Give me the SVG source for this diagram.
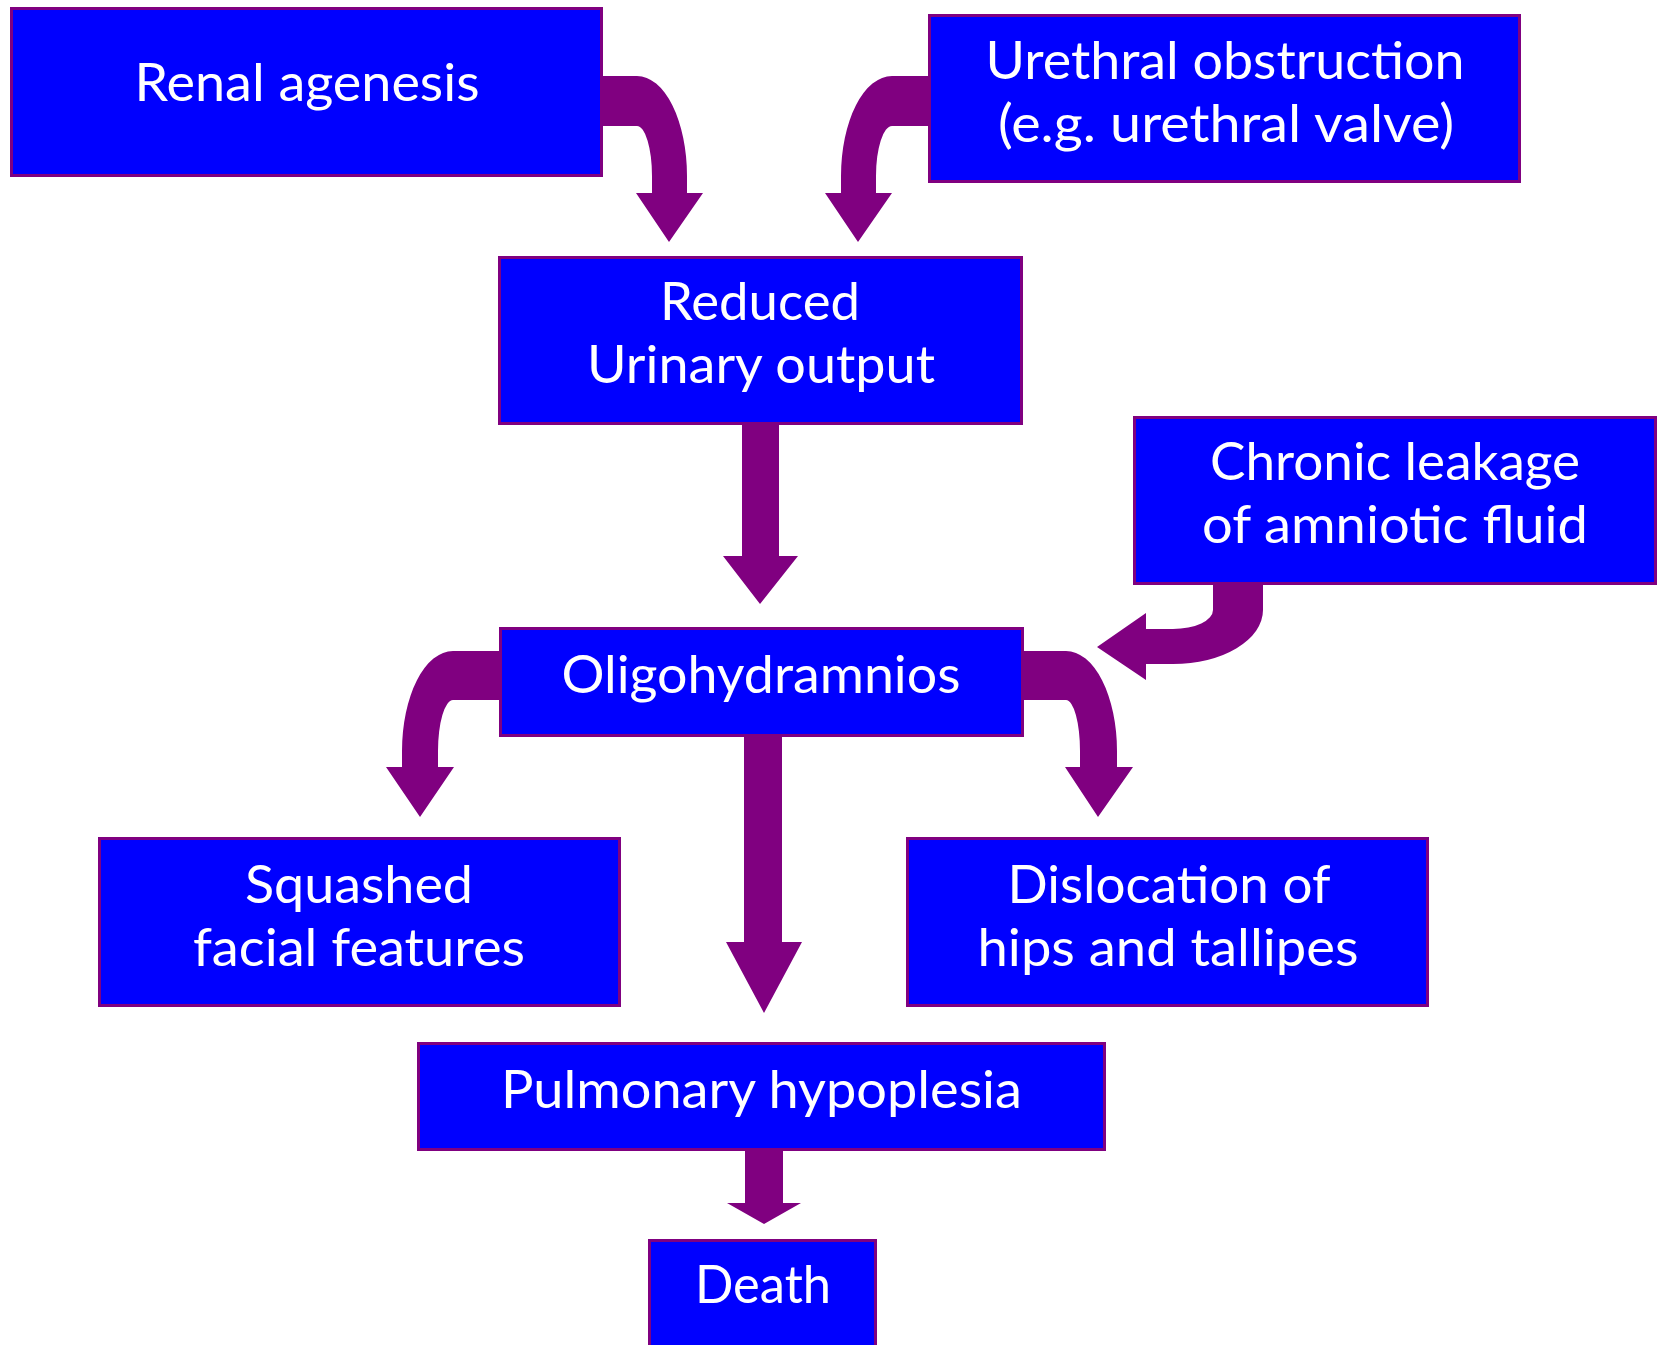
<svg xmlns="http://www.w3.org/2000/svg" width="1665" height="1345" viewBox="0 0 1665 1345">
<style>
.box{fill:#0000FF;stroke:#800080;stroke-width:3}
.t{fill:#FFFFFF;font-family:Lato,"Noto Sans","Liberation Sans",sans-serif;font-size:52px;text-anchor:middle}
.arr{fill:#800080}
</style>
<rect width="1665" height="1345" fill="#FFFFFF"/>
<g id="connectors">
<path class="arr" d="M 602 76 H 637 A 50 100 0 0 1 687 176 V 193 H 703 L 669 242 L 636 193 H 652 V 176 A 15 50 0 0 0 637 126 H 602 Z"/>
<path class="arr" d="M 930 76 H 892 A 51 100 0 0 0 841 176 V 193 H 825 L 858 242 L 892 193 H 876 V 176 A 16 50 0 0 1 892 126 H 930 Z"/>
<path class="arr" d="M 742 424 H 779 V 556 H 798 L 760 604 L 723 556 H 742 Z"/>
<path class="arr" d="M 1213 584 H 1263 V 610 A 90 54 0 0 1 1173 664 H 1146 V 680 L 1097 647 L 1146 613 V 629 H 1173 A 40 19 0 0 0 1213 610 Z"/>
<path class="arr" d="M 501 651 H 453 A 51 100 0 0 0 402 751 V 767 H 386 L 420 817 L 454 767 H 438 V 751 A 15 51 0 0 1 453 700 H 501 Z"/>
<path class="arr" d="M 1022 651 H 1066 A 51 100 0 0 1 1117 751 V 767 H 1133 L 1098 817 L 1065 767 H 1080 V 751 A 14 51 0 0 0 1066 700 H 1022 Z"/>
<path class="arr" d="M 744 736 H 782 V 942 H 802 L 764 1013 L 726 942 H 744 Z"/>
<path class="arr" d="M 745 1150 H 783 V 1203 H 801 L 764 1224 L 727 1203 H 745 Z"/>
</g>
<g id="renal">
<rect class="box" x="11.5" y="8.5" width="590" height="167"/>
<text class="t" x="307" y="101" textLength="345" lengthAdjust="spacingAndGlyphs">Renal agenesis</text>
</g>
<g id="urethral">
<rect class="box" x="929.5" y="15.5" width="590" height="166"/>
<text class="t" x="1225" y="79" textLength="479" lengthAdjust="spacingAndGlyphs">Urethral obstruction</text>
<text class="t" x="1226" y="142" textLength="456" lengthAdjust="spacingAndGlyphs">(e.g. urethral valve)</text>
</g>
<g id="reduced">
<rect class="box" x="499.5" y="257.5" width="522" height="166"/>
<text class="t" x="760" y="320" textLength="200" lengthAdjust="spacingAndGlyphs">Reduced</text>
<text class="t" x="761" y="383" textLength="348" lengthAdjust="spacingAndGlyphs">Urinary output</text>
</g>
<g id="chronic">
<rect class="box" x="1134.5" y="417.5" width="521" height="166"/>
<text class="t" x="1395" y="480" textLength="370" lengthAdjust="spacingAndGlyphs">Chronic leakage</text>
<text class="t" x="1395" y="543" textLength="386" lengthAdjust="spacingAndGlyphs">of amniotic fluid</text>
</g>
<g id="oligo">
<rect class="box" x="500.5" y="628.5" width="522" height="107"/>
<text class="t" x="761" y="693" textLength="399" lengthAdjust="spacingAndGlyphs">Oligohydramnios</text>
</g>
<g id="squashed">
<rect class="box" x="99.5" y="838.5" width="520" height="167"/>
<text class="t" x="359" y="903" textLength="228" lengthAdjust="spacingAndGlyphs">Squashed</text>
<text class="t" x="359" y="966" textLength="332" lengthAdjust="spacingAndGlyphs">facial features</text>
</g>
<g id="dislocation">
<rect class="box" x="907.5" y="838.5" width="520" height="167"/>
<text class="t" x="1169" y="903" textLength="323" lengthAdjust="spacingAndGlyphs">Dislocation of</text>
<text class="t" x="1168" y="966" textLength="381" lengthAdjust="spacingAndGlyphs">hips and tallipes</text>
</g>
<g id="pulmonary">
<rect class="box" x="418.5" y="1043.5" width="686" height="106"/>
<text class="t" x="761.5" y="1108" textLength="521" lengthAdjust="spacingAndGlyphs">Pulmonary hypoplesia</text>
</g>
<g id="death">
<rect class="box" x="649.5" y="1240.5" width="226" height="130"/>
<text class="t" x="763" y="1303" textLength="136" lengthAdjust="spacingAndGlyphs">Death</text>
</g>
</svg>
